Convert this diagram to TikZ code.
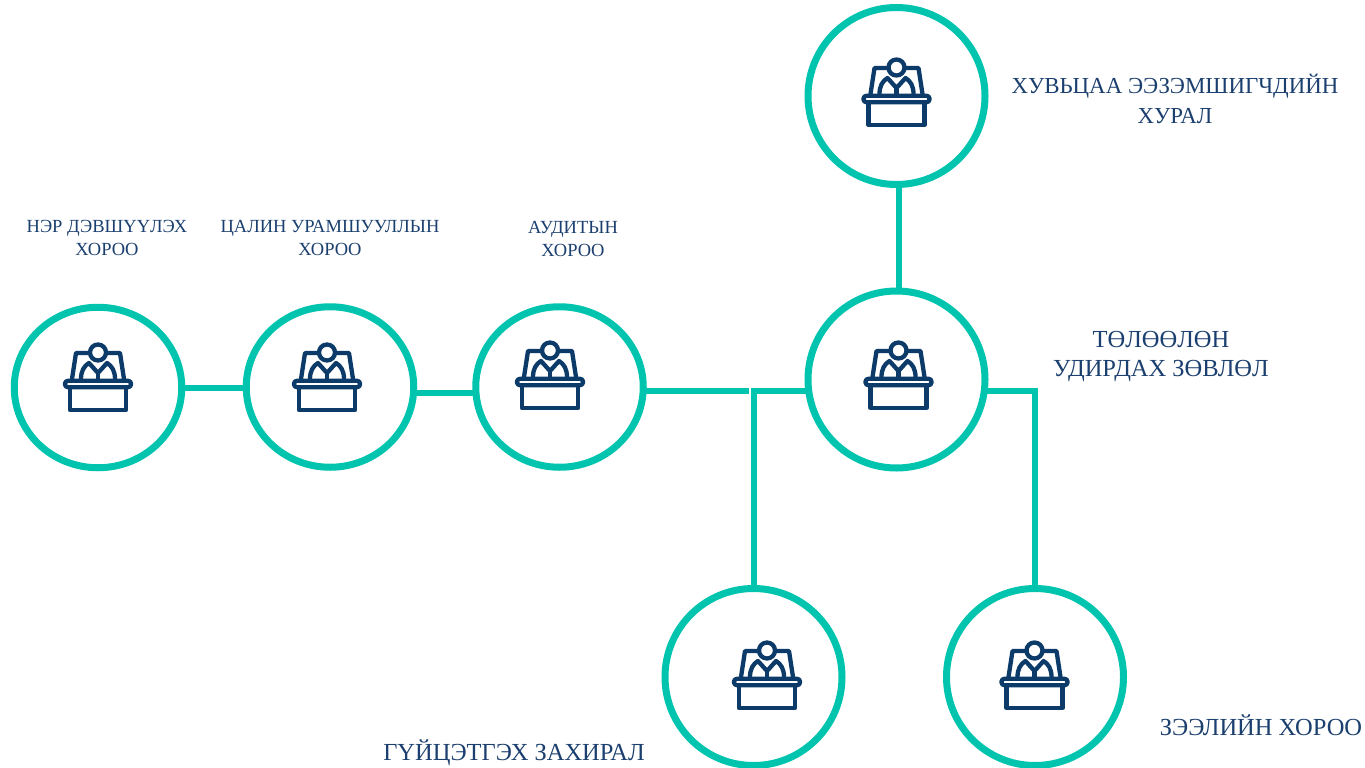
\documentclass[tikz,border=0pt]{standalone}
\usepackage{fontspec}
\setmainfont{Liberation Serif}
\usetikzlibrary{shapes.geometric}
\definecolor{teal1}{HTML}{00C4AE}
\definecolor{navy1}{HTML}{0C3A69}
\definecolor{txt1}{HTML}{1B3F6E}
\tikzset{
  x=1pt,y=-1pt,
  hub/.style={draw=teal1,line width=7pt,circle,minimum size=177pt,inner sep=0pt,outer sep=0pt},
  small/.style={draw=teal1,line width=7pt,ellipse,minimum width=167.5pt,minimum height=160.5pt,inner sep=0pt,outer sep=0pt},
  link/.style={draw=teal1,line width=6pt,line join=miter},
  biglab/.style={text=txt1,align=center,inner sep=0pt,font=\fontsize{24.5}{29.5}\selectfont},
  toplab/.style={text=txt1,align=center,inner sep=0pt,font=\fontsize{22.9}{29.5}\selectfont},
  smalllab/.style={text=txt1,align=center,inner sep=0pt,font=\fontsize{18.5}{23}\selectfont},
  iconline/.style={draw=navy1,line width=4.3pt,line join=round,line cap=round},
  deskicon/.pic={
    % chair
    \draw[iconline] (-26,-2) -- (-22,-28) -- (-9,-28);
    \draw[iconline] (26,-2) -- (22,-28) -- (9,-28);
    % body and collar
    \draw[iconline] (-17,-2) .. controls (-17,-10) and (-14,-15) .. (-9,-18) -- (0,-8) -- (9,-18) .. controls (14,-15) and (17,-10) .. (17,-2);
    \draw[iconline] (0,-8) -- (0,-2);
    % head
    \draw[iconline,fill=white] (0,-28.5) circle (8);
    % desk
    \draw[iconline,fill=white] (-28,6) rectangle (28,29);
    \draw[iconline,fill=white,rounded corners=2.8pt] (-33,-0.2) rectangle (33,6.2);
  }
}
\begin{document}
\begin{tikzpicture}
\useasboundingbox (0,0) rectangle (1365,768);
\node[small] (a) at (98,387.5) {};
\node[small] (b) at (330,387) {};
\node[small] (c) at (559.5,387) {};
\node[hub] (top) at (896.5,96) {};
\node[hub] (mid) at (896.5,379.5) {};
\node[hub] (ceo) at (753.5,677) {};
\node[hub] (loan) at (1035,677) {};
\coordinate (j1) at (753.5,391);
\coordinate (j2) at (1035,391);
\coordinate (j0) at (749,391);
\draw[link] ([yshift=-0.5pt]a.east) -- ([yshift=-1pt]b.west);
\draw[link] ([yshift=-6pt]b.east) -- ([yshift=-6pt]c.west);
\draw[link] ([yshift=-4pt]c.east) -- (j0);
\draw[link] ([yshift=-11.5pt]mid.west) -- (j1) -- (ceo.north);
\draw[link] ([yshift=-11.5pt]mid.east) -- (j2) -- (loan.north);
\draw[link] ([xshift=2.5pt]top.south) -- ([xshift=2.5pt]mid.north);
\pic at (98,381) {deskicon};
\pic at (327,381) {deskicon};
\pic at (550,379) {deskicon};
\pic at (896.5,96) {deskicon};
\pic at (898.5,379) {deskicon};
\pic at (767,679) {deskicon};
\pic at (1034.5,679) {deskicon};
\node[toplab] (l1) at (1175,99) {ХУВЬЦАА ЭЭЗЭМШИГЧДИЙН\\ХУРАЛ};
\node[biglab] (l2) at (1161,356.5) {ТӨЛӨӨЛӨН\\УДИРДАХ ЗӨВЛӨЛ};
\node[biglab] (l3) at (514,753) {ГҮЙЦЭТГЭХ ЗАХИРАЛ};
\node[biglab] (l4) at (1261,725) {ЗЭЭЛИЙН ХОРОО};
\node[smalllab] (l5) at (107,238) {НЭР ДЭВШҮҮЛЭХ\\ХОРОО};
\node[smalllab] (l6) at (330,238) {ЦАЛИН УРАМШУУЛЛЫН\\ХОРОО};
\node[smalllab] (l7) at (573,239) {АУДИТЫН\\ХОРОО};
\end{tikzpicture}
\end{document}
